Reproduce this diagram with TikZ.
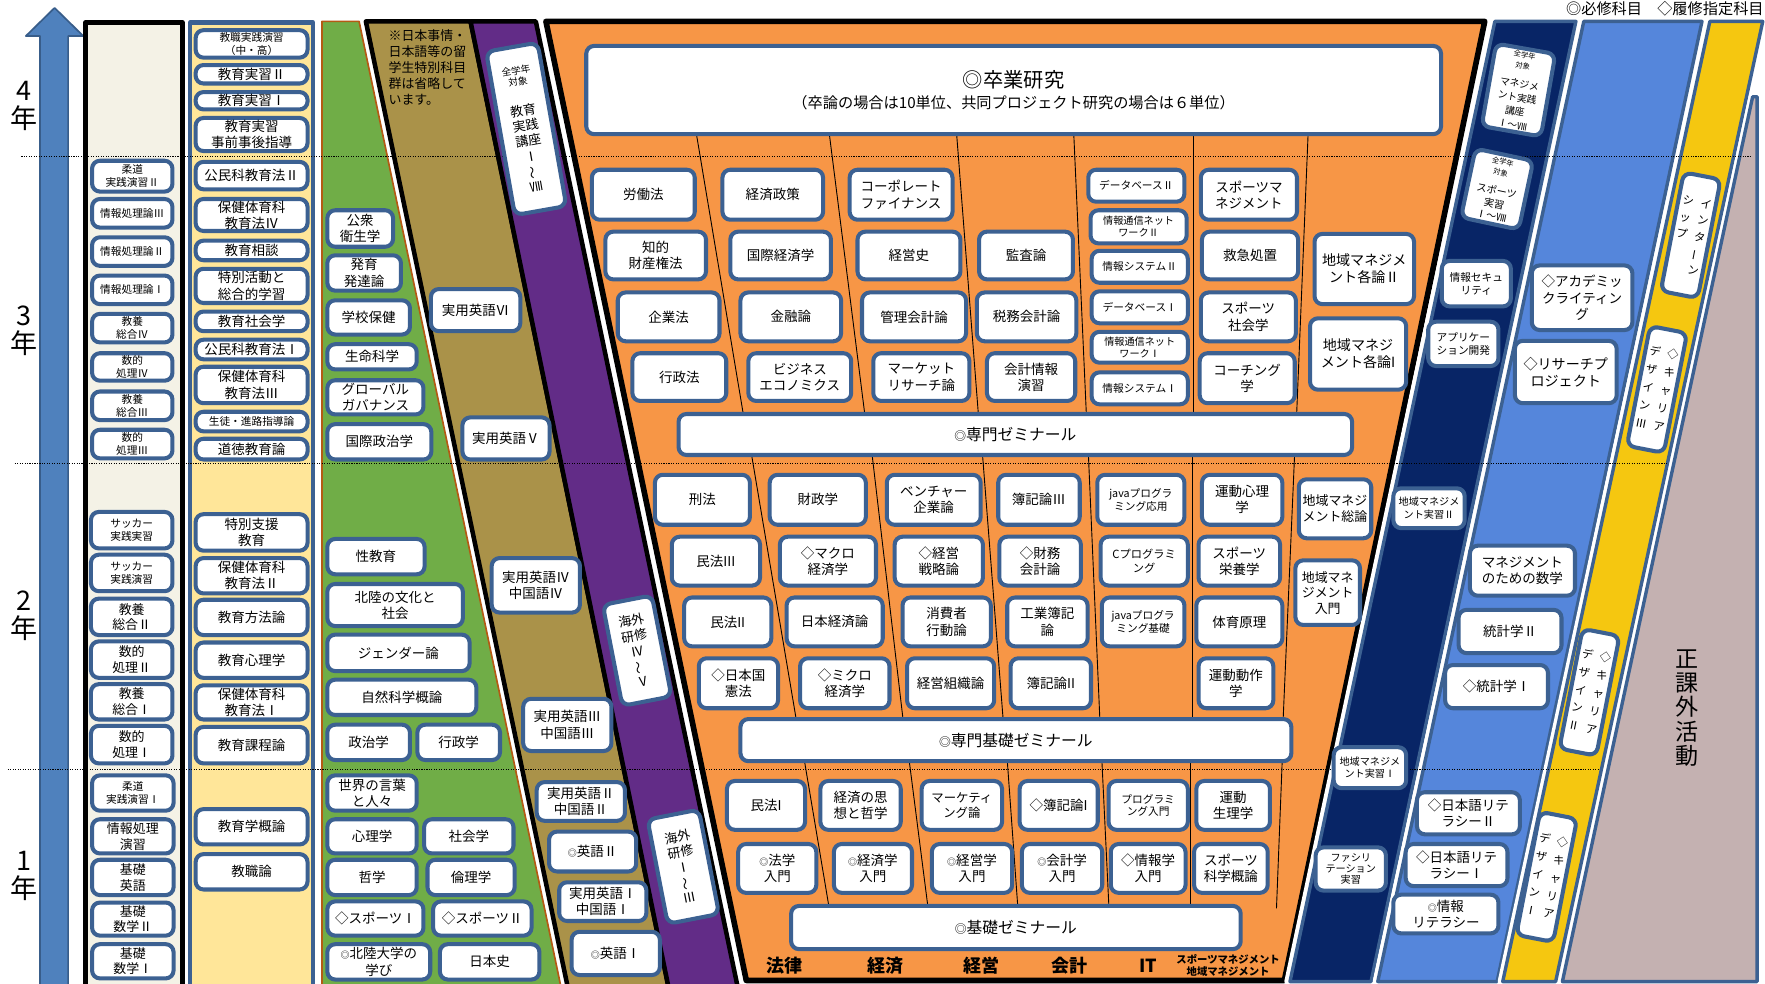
\documentclass[tikz,border=0pt]{standalone}
\usepackage{fontspec}
\setmainfont{Noto Sans CJK JP}
\usepackage{graphicx}
\definecolor{bb}{HTML}{3C6192}
\definecolor{arrowf}{HTML}{4F81BD}
\definecolor{arrowd}{HTML}{385D8A}
\definecolor{beige}{HTML}{F4F2E6}
\definecolor{cream}{HTML}{FFE699}
\definecolor{grn}{HTML}{70AD47}
\definecolor{grnb}{HTML}{B45A14}
\definecolor{olv}{HTML}{AA9249}
\definecolor{prp}{HTML}{622C87}
\definecolor{org}{HTML}{F79646}
\definecolor{nvy}{HTML}{082566}
\definecolor{lbl}{HTML}{5586DB}
\definecolor{ylw}{HTML}{F5C710}
\definecolor{gry}{HTML}{C4B1B1}
\newcommand{\fsz}[1]{\fontsize{#1}{\fpeval{#1*1.2}}\selectfont}
\newcommand{\dm}{{\fontsize{8}{8}\selectfont ◎}}
\newcommand{\vtl}{\rotatebox[origin=c]{90}{～}}
\newcommand{\vbar}{\rotatebox[origin=c]{90}{ー}}
\newcommand{\vcol}[1]{\begin{tabular}[t]{@{}c@{}}#1\end{tabular}}
\newcommand{\Bx}[7]{\node[bx, minimum width={#4-#2-3.6}, minimum height={#5-#3-3.6}, font=\fsz{#6}] (#1) at ({(#2+#4)/2},{(#3+#5)/2}) {#7};}
\newcommand{\Rbx}[8]{\node[bx, minimum width={#4-3.6}, minimum height={#5-3.6}, rotate=#6, font=\fsz{#7}] (#1) at (#2,#3) {#8};}
\begin{document}
\begin{tikzpicture}[x=1pt,y=-1pt,line join=round,
  bx/.style={draw=bb, fill=white, line width=3.6pt, rounded corners=7pt, inner sep=0pt, align=center},
  dotl/.style={line width=0.9pt, dash pattern=on 1pt off 1.2pt},
  divl/.style={line width=0.8pt, draw=black},
  vtxt/.style={font=\fsz{10}, inner sep=0pt},
  yrl/.style={font=\fsz{24}, inner sep=0pt}]
\useasboundingbox (0,0) rectangle (1568,874);
\clip (0,0) rectangle (1568,874);
\fill[white] (0,0) rectangle (1568,874);
% year arrow
\draw[fill=arrowf, draw=arrowd, line width=1.5pt] (35.5,880) -- (35.5,32) -- (23,32) -- (48.5,7) -- (74,32) -- (60.5,32) -- (60.5,880) -- cycle;
% columns
\draw[fill=beige, line width=4pt] (76,20) rectangle (162,884);
\draw[fill=cream, draw=bb, line width=4pt] (169,20) rectangle (278,884);
\draw[fill=grn, draw=grnb, line width=1.5pt] (286,19) -- (319,19) -- (499,880) -- (286,880) -- cycle;
\draw[white, line width=9pt] (325,19) -- (418,19) -- (594.5,880) -- (505,880) -- cycle;
\draw[fill=olv, line width=4pt] (325,19) -- (418,19) -- (594.5,880) -- (505,880) -- cycle;
\draw[fill=prp, line width=4pt] (418,19) -- (476,19) -- (656,880) -- (594.5,880) -- cycle;
\draw[white, line width=12pt] (485,19) -- (1319,19) -- (1141,871) -- (663,871) -- cycle;
\draw[fill=org, line width=5pt] (485,19) -- (1319,19) -- (1141,871) -- (663,871) -- cycle;
% right strips
\draw[white, line width=10pt] (1328,19) -- (1400,19) -- (1218,872) -- (1146,872) -- cycle;
\draw[fill=nvy, draw=bb, line width=3pt] (1328,19) -- (1400,19) -- (1218,872) -- (1146,872) -- cycle;
\draw[white, line width=9pt] (1407,19) -- (1512,19) -- (1330,872) -- (1224,872) -- cycle;
\draw[fill=lbl, draw=bb, line width=3pt] (1407,19) -- (1512,19) -- (1330,872) -- (1224,872) -- cycle;
\draw[white, line width=9pt] (1519,19) -- (1566,19) -- (1382,872) -- (1335,872) -- cycle;
\draw[fill=ylw, draw=bb, line width=3pt] (1519,19) -- (1566,19) -- (1382,872) -- (1335,872) -- cycle;
\draw[white, line width=7pt] (1557,86) -- (1561,86) -- (1561,872) -- (1388,872) -- cycle;
\draw[fill=gry, draw=bb, line width=3pt] (1557,86) -- (1561,86) -- (1561,872) -- (1388,872) -- cycle;
% dotted year lines
\draw[dotl] (19,139) -- (1555,139);
\draw[dotl] (13,412) -- (1481,412);
\draw[dotl] (7,684) -- (1421,684);
% orange dividers
\draw[divl] (619,121) -- (660,366);
\draw[divl] (737,121) -- (768,366);
\draw[divl] (850,121) -- (869,366);
\draw[divl] (954,121) -- (965,366);
\draw[divl] (1060,121) -- (1060,366);
\draw[divl] (1162,121) -- (1152,366);
\draw[divl] (668,406) -- (707,637);
\draw[divl] (775,406) -- (802,637);
\draw[divl] (873,406) -- (891,637);
\draw[divl] (967,406) -- (977,637);
\draw[divl] (1059,406) -- (1059,637);
\draw[divl] (1150,406) -- (1140,637);
\draw[divl] (715,678) -- (736,803);
\draw[divl] (808,678) -- (824,803);
\draw[divl] (895,678) -- (904,803);
\draw[divl] (979,678) -- (985,803);
\draw[divl] (1058,678) -- (1058,803);
\draw[divl] (1139,678) -- (1134,807);
% column 1
\Bx{c1a}{80}{141}{155}{172}{9.5}{柔道\\実践演習Ⅱ}
\Bx{c1b}{80}{175}{155}{204}{9.5}{情報処理論Ⅲ}
\Bx{c1c}{80}{209}{155}{238}{9.5}{情報処理論Ⅱ}
\Bx{c1d}{80}{243}{155}{272}{9.5}{情報処理論Ⅰ}
\Bx{c1e}{80}{277}{155}{306}{9.5}{教養\\総合Ⅳ}
\Bx{c1f}{80}{312}{155}{340}{9.5}{数的\\処理Ⅳ}
\Bx{c1g}{80}{346}{155}{375}{9.5}{教養\\総合Ⅲ}
\Bx{c1h}{80}{380}{155}{409}{9.5}{数的\\処理Ⅲ}
\Bx{c1i}{79}{453}{155}{489}{9.5}{サッカー\\実践実習}
\Bx{c1j}{79}{491}{155}{527}{9.5}{サッカー\\実践演習}
\Bx{c1k}{79}{530}{155}{566}{11.5}{教養\\総合Ⅱ}
\Bx{c1l}{79}{568}{155}{604}{11.5}{数的\\処理Ⅱ}
\Bx{c1m}{79}{606}{155}{641}{11.5}{教養\\総合Ⅰ}
\Bx{c1n}{79}{643}{155}{680}{11.5}{数的\\処理Ⅰ}
\Bx{c1o}{80}{687}{156}{722}{9.5}{柔道\\実践演習Ⅰ}
\Bx{c1p}{80}{726}{156}{760}{11.5}{情報処理\\演習}
\Bx{c1q}{80}{762}{156}{797}{11.5}{基礎\\英語}
\Bx{c1r}{80}{800}{156}{833}{11.5}{基礎\\数学Ⅱ}
\Bx{c1s}{80}{837}{156}{871}{11.5}{基礎\\数学Ⅰ}
% column 2
\Bx{c2a}{172}{25}{275}{53}{9.5}{教職実践演習\\（中・高）}
\Bx{c2b}{172}{56}{275}{76}{12}{教育実習Ⅱ}
\Bx{c2c}{172}{80}{275}{99}{12}{教育実習Ⅰ}
\Bx{c2d}{172}{103}{275}{136}{12}{教育実習\\事前事後指導}
\Bx{c2e}{172}{142}{275}{170}{12}{公民科教育法Ⅱ}
\Bx{c2f}{172}{175}{275}{207}{12}{保健体育科\\教育法Ⅳ}
\Bx{c2g}{172}{212}{275}{233}{12}{教育相談}
\Bx{c2h}{172}{237}{275}{271}{12}{特別活動と\\総合的学習}
\Bx{c2i}{172}{275}{275}{296}{12}{教育社会学}
\Bx{c2j}{172}{300}{275}{321}{12}{公民科教育法Ⅰ}
\Bx{c2k}{172}{324}{275}{360}{12}{保健体育科\\教育法Ⅲ}
\Bx{c2l}{172}{364}{275}{385}{9.5}{生徒・進路指導論}
\Bx{c2m}{172}{388}{275}{410}{12}{道徳教育論}
\Bx{c2n}{172}{455}{275}{491}{12}{特別支援\\教育}
\Bx{c2o}{172}{494}{275}{529}{12}{保健体育科\\教育法Ⅱ}
\Bx{c2p}{172}{531}{275}{566}{12}{教育方法論}
\Bx{c2q}{172}{569}{275}{604}{12}{教育心理学}
\Bx{c2r}{172}{607}{275}{641}{12}{保健体育科\\教育法Ⅰ}
\Bx{c2s}{172}{644}{275}{680}{12}{教育課程論}
\Bx{c2t}{172}{717}{275}{752}{12}{教育学概論}
\Bx{c2u}{172}{757}{275}{792}{12}{教職論}
% green
\Bx{g1}{289}{185}{351}{221}{12}{公衆\\衛生学}
\Bx{g2}{289}{225}{358}{260}{12}{発育\\発達論}
\Bx{g3}{289}{265}{366}{299}{12}{学校保健}
\Bx{g4}{289}{304}{372}{330}{12}{生命科学}
\Bx{g5}{289}{336}{378}{370}{12}{グローバル\\ガバナンス}
\Bx{g6}{289}{375}{385}{410}{12}{国際政治学}
\Bx{g7}{289}{477}{379}{512}{12}{性教育}
\Bx{g8}{289}{517}{413}{558}{12}{北陸の文化と\\社会}
\Bx{g9}{289}{562}{419}{598}{12}{ジェンダー論}
\Bx{g10}{289}{602}{425}{637}{12}{自然科学概論}
\Bx{g11}{289}{642}{366}{677}{12}{政治学}
\Bx{g12}{369}{642}{446}{677}{12}{行政学}
\Bx{g13}{289}{687}{372}{722}{12}{世界の言葉\\と人々}
\Bx{g14}{289}{726}{372}{760}{12}{心理学}
\Bx{g15}{375}{726}{458}{760}{12}{社会学}
\Bx{g16}{289}{762}{372}{797}{12}{哲学}
\Bx{g17}{378}{762}{459}{797}{12}{倫理学}
\Bx{g18}{289}{799}{378}{833}{12}{◇スポーツⅠ}
\Bx{g19}{383}{799}{474}{833}{12}{◇スポーツⅡ}
\Bx{g20}{289}{837}{384}{872}{12}{\dm 北陸大学の\\学び}
\Bx{g21}{389}{837}{481}{872}{12}{日本史}
% olive
\node[anchor=north west, align=left, inner sep=0pt, font=\fontsize{11.5}{14.2}\selectfont] (note) at (345,26) {※日本事情・\\日本語等の留\\学生特別科目\\群は省略して\\います。};
\Bx{o1}{381}{255}{464}{296}{12}{実用英語Ⅵ}
\Bx{o2}{409}{369}{490}{410}{12}{実用英語Ⅴ}
\Bx{o3}{435}{494}{517}{546}{12}{実用英語Ⅳ\\中国語Ⅳ}
\Bx{o4}{463}{619}{545}{669}{12}{実用英語Ⅲ\\中国語Ⅲ}
\Bx{o5}{475}{693}{557}{731}{12}{実用英語Ⅱ\\中国語Ⅱ}
\Bx{o6}{486}{737}{567}{776}{12}{\dm 英語Ⅱ}
\Bx{o7}{495}{782}{576}{820}{12}{実用英語Ⅰ\\中国語Ⅰ}
\Bx{o8}{506}{826}{588}{868}{12}{\dm 英語Ⅰ}
% purple
\Rbx{p1}{467.5}{114.5}{50}{151}{10}{11.5}{\fsz{8.5}全学年\\[-3.8pt]\fsz{8.5}対象\\[13pt]教育\\実践\\講座\\Ⅰ\\\vtl\\Ⅷ}
\Rbx{p2}{566}{578}{48}{95}{11}{11.5}{海外\\研修\\Ⅳ\\\vtl\\Ⅴ}
\Rbx{p3}{607}{770}{50}{98}{11}{11.5}{海外\\研修\\Ⅰ\\\vtl\\Ⅲ}
% orange: seminars
\Bx{z1}{519}{39}{1282}{121}{18}{◎卒業研究\\[-3pt]\fsz{13.5}（卒論の場合は10単位、共同プロジェクト研究の場合は６単位）}
\Bx{z2}{601}{366}{1203}{406}{14}{{\fsz{10.5}◎}専門ゼミナール}
\Bx{z3}{656}{637}{1149}{678}{14}{{\fsz{10.5}◎}専門基礎ゼミナール}
\Bx{z4}{701}{803}{1104}{845}{14}{{\fsz{10.5}◎}基礎ゼミナール}
% orange 3rd year
\Bx{a1}{524}{149}{619}{197}{12}{労働法}
\Bx{a2}{536}{204}{629}{250}{12}{知的\\財産権法}
\Bx{a3}{547}{258}{641}{305}{12}{企業法}
\Bx{a4}{560}{312}{647}{358}{12}{行政法}
\Bx{b1}{640}{149}{733}{197}{12}{経済政策}
\Bx{b2}{647}{204}{740}{250}{12}{国際経済学}
\Bx{b3}{656}{258}{749}{305}{12}{金融論}
\Bx{b4}{663}{312}{758}{358}{12}{ビジネス\\エコノミクス}
\Bx{m1}{753}{149}{848}{197}{12}{コーポレート\\ファイナンス}
\Bx{m2}{760}{204}{855}{250}{12}{経営史}
\Bx{m3}{764}{258}{860}{305}{12}{管理会計論}
\Bx{m4}{774}{312}{863}{358}{12}{マーケット\\リサーチ論}
\Bx{k1}{868}{204}{955}{250}{12}{監査論}
\Bx{k2}{866}{258}{958}{305}{12}{税務会計論}
\Bx{k3}{875}{312}{957}{358}{12}{会計情報\\演習}
\Bx{i1}{965}{149}{1054}{181}{9.5}{データベースⅡ}
\Bx{i2}{967}{185}{1056}{218}{9}{情報通信ネット\\ワークⅡ}
\Bx{i3}{968}{221}{1057}{253}{9.5}{情報システムⅡ}
\Bx{i4}{968}{257}{1057}{289}{9.5}{データベースⅠ}
\Bx{i5}{968}{293}{1057}{324}{9}{情報通信ネット\\ワークⅠ}
\Bx{i6}{968}{329}{1057}{361}{9.5}{情報システムⅠ}
\Bx{s1}{1065}{149}{1154}{197}{12}{スポーツマ\\ネジメント}
\Bx{s2}{1066}{204}{1155}{250}{12}{救急処置}
\Bx{s3}{1065}{258}{1153}{305}{12}{スポーツ\\社会学}
\Bx{s4}{1064}{312}{1152}{360}{12}{コーチング\\学}
\Bx{r1}{1166}{206}{1258}{272}{12.5}{地域マネジメ\\ント各論Ⅱ}
\Bx{r2}{1162}{281}{1251}{348}{12.5}{地域マネジ\\メント各論I}
% orange 2nd year
\Bx{a5}{580}{420}{668}{468}{12}{刑法}
\Bx{a6}{595}{475}{677}{522}{12}{民法III}
\Bx{a7}{606}{529}{687}{576}{12}{民法II}
\Bx{a8}{619}{583}{693}{631}{12}{◇日本国\\憲法}
\Bx{b5}{682}{420}{771}{468}{12}{財政学}
\Bx{b6}{691}{475}{780}{522}{12}{◇マクロ\\経済学}
\Bx{b7}{697}{529}{786}{576}{12}{日本経済論}
\Bx{b8}{709}{583}{792}{631}{12}{◇ミクロ\\経済学}
\Bx{m5}{786}{420}{873}{468}{12}{ベンチャー\\企業論}
\Bx{m6}{793}{475}{875}{522}{12}{◇経営\\戦略論}
\Bx{m7}{800}{529}{882}{576}{12}{消費者\\行動論}
\Bx{m8}{804}{583}{885}{631}{12}{経営組織論}
\Bx{k4}{885}{420}{961}{468}{12}{簿記論Ⅲ}
\Bx{k5}{886}{475}{962}{522}{12}{◇財務\\会計論}
\Bx{k6}{893}{529}{968}{576}{12}{工業簿記\\論}
\Bx{k7}{896}{583}{971}{631}{12}{簿記論II}
\Bx{i7}{973}{420}{1054}{468}{9.5}{javaプログラ\\ミング応用}
\Bx{i8}{976}{475}{1057}{522}{10}{Cプログラミ\\ング}
\Bx{i9}{977}{529}{1054}{576}{9.5}{javaプログラ\\ミング基礎}
\Bx{s5}{1066}{420}{1141}{468}{12}{運動心理\\学}
\Bx{s6}{1063}{475}{1139}{522}{12}{スポーツ\\栄養学}
\Bx{s7}{1061}{529}{1141}{576}{12}{体育原理}
\Bx{s8}{1063}{583}{1133}{631}{12}{運動動作\\学}
\Bx{r3}{1152}{424}{1220}{480}{11.5}{地域マネジ\\メント総論}
\Bx{r4}{1149}{496}{1210}{557}{11.5}{地域マネ\\ジメント\\入門}
% orange 1st year
\Bx{a9}{644}{692}{717}{739}{12}{民法I}
\Bx{b9}{727}{692}{802}{739}{12}{経済の思\\想と哲学}
\Bx{m9}{817}{692}{892}{739}{11}{マーケティ\\ング論}
\Bx{k8}{904}{692}{977}{739}{12}{◇簿記論I}
\Bx{i10}{983}{692}{1057}{739}{9.5}{プログラミ\\ング入門}
\Bx{s9}{1061}{692}{1130}{739}{12}{運動\\生理学}
\Bx{a10}{654}{748}{727}{795}{12}{\dm 法学\\入門}
\Bx{b10}{739}{748}{812}{795}{12}{\dm 経済学\\入門}
\Bx{m10}{826}{748}{901}{795}{12}{\dm 経営学\\入門}
\Bx{k9}{906}{748}{981}{795}{12}{\dm 会計学\\入門}
\Bx{i11}{985}{748}{1055}{795}{12}{◇情報学\\入門}
\Bx{s10}{1059}{748}{1128}{795}{12}{スポーツ\\科学概論}
% navy strip
\node[bx, minimum width={57-3.6}, minimum height={78-3.6}, rotate=-10, font=\fontsize{8.7}{12.3}\selectfont] (n1) at (1349,80) {\fsz{6.5}全学年\\[-2.8pt]\fsz{6.5}対象\\[5pt]マネジメ\\ント実践\\講座\\Ⅰ～Ⅷ};
\node[bx, minimum width={56-3.6}, minimum height={66-3.6}, rotate=-12, font=\fontsize{9}{11.5}\selectfont] (n2) at (1330,168) {\fsz{6.5}全学年\\[-1.5pt]\fsz{6.5}対象\\[6pt]スポーツ\\実習\\Ⅰ～Ⅷ};
\Bx{n3}{1279}{230}{1344}{274}{9.5}{情報セキュ\\リティ}
\Bx{n4}{1267}{284}{1333}{327}{9.5}{アプリケー\\ション開発}
\Bx{n5}{1236}{432}{1303}{471}{9}{地域マネジメ\\ント実習Ⅱ}
\Bx{n6}{1183}{662}{1251}{702}{9}{地域マネジメ\\ント実習Ⅰ}
\Bx{n7}{1167}{751}{1233}{793}{9}{ファシリ\\[-1pt]テーション\\[-1pt]実習}
% light blue strip
\Bx{l1}{1359}{234}{1452}{295}{12}{◇アカデミッ\\クライティン\\グ}
\Bx{l2}{1344}{301}{1438}{360}{12.5}{◇リサーチプ\\ロジェクト}
\Bx{l3}{1304}{483}{1401}{531}{12}{マネジメント\\のための数学}
\Bx{l4}{1294}{540}{1389}{582}{12}{統計学Ⅱ}
\Bx{l5}{1282}{589}{1377}{631}{12}{◇統計学Ⅰ}
\Bx{l6}{1257}{702}{1352}{743}{12}{◇日本語リテ\\ラシーⅡ}
\Bx{l7}{1247}{748}{1341}{789}{12}{◇日本語リテ\\ラシーⅠ}
\Bx{l8}{1236}{793}{1333}{831}{12}{\dm 情報\\リテラシー}
% yellow strip
\Rbx{y1}{1502}{209}{37}{111}{-11}{10}{}
\node[vtxt, rotate=-11] (y1t) at (1502,210) {\renewcommand\arraystretch{1.25}\vcol{シ\\ッ\\プ}\hspace{6pt}\vcol{イ\\ン\\タ\\\vbar\\ン}};
\Rbx{y2}{1472}{346}{37}{112}{-11}{10}{}
\node[vtxt, rotate=-11] (y2t) at (1472,346) {\renewcommand\arraystretch{1.35}\vcol{デ\\ザ\\イ\\ン\\Ⅲ}\hspace{6pt}\vcol{◇\\キ\\ャ\\リ\\ア}};
\Rbx{y3}{1412}{615}{37}{112}{-11}{10}{}
\node[vtxt, rotate=-11] (y3t) at (1412,615) {\renewcommand\arraystretch{1.35}\vcol{デ\\ザ\\イ\\ン\\Ⅱ}\hspace{6pt}\vcol{◇\\キ\\ャ\\リ\\ア}};
\Rbx{y4}{1374}{779}{37}{115}{-11}{10}{}
\node[vtxt, rotate=-11] (y4t) at (1374,779) {\renewcommand\arraystretch{1.35}\vcol{デ\\ザ\\イ\\ン\\Ⅰ}\hspace{6pt}\vcol{◇\\キ\\ャ\\リ\\ア}};
% gray
\node[align=center, font=\fontsize{20.5}{21.5}\selectfont] (kagai) at (1499,629) {正\\課\\外\\活\\動};
% year labels
\node[yrl] (yr4a) at (21,81) {4};
\node[yrl] (yr4b) at (21,105) {年};
\node[yrl] (yr3a) at (21,281) {3};
\node[yrl] (yr3b) at (21,305) {年};
\node[yrl] (yr2a) at (21,534) {2};
\node[yrl] (yr2b) at (21,558) {年};
\node[yrl] (yr1a) at (21,765) {1};
\node[yrl] (yr1b) at (21,789) {年};
% legend
\node[anchor=east, inner sep=0pt, font=\fsz{13.5}] (legend) at (1567,8) {◎必修科目　◇履修指定科目};
% bottom labels
\node[font=\bfseries\fsz{16}] (lb1) at (697,858) {法律};
\node[font=\bfseries\fsz{16}] (lb2) at (787,858) {経済};
\node[font=\bfseries\fsz{16}] (lb3) at (872,858) {経営};
\node[font=\bfseries\fsz{16}] (lb4) at (950,858) {会計};
\node[font=\bfseries\fsz{16}] (lb5) at (1020,858) {IT};
\node[align=center, inner sep=0pt, font=\bfseries\fontsize{9.2}{10.8}\selectfont] (lb6) at (1091,858) {スポーツマネジメント\\地域マネジメント};
\end{tikzpicture}
\end{document}
